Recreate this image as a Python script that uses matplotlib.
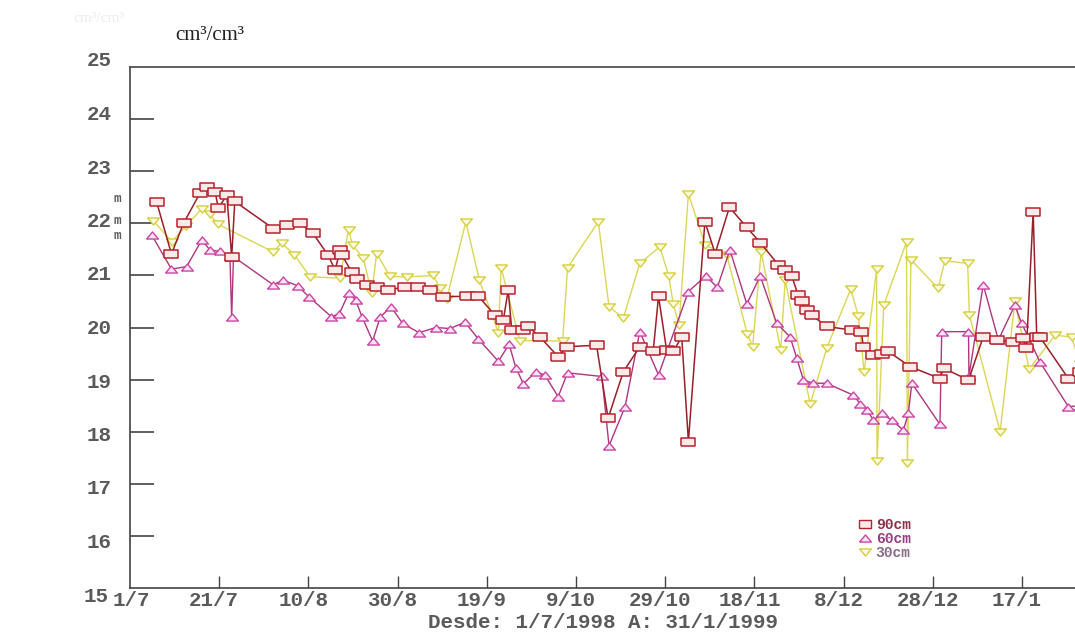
import matplotlib
matplotlib.use('Agg')
import matplotlib.pyplot as plt
from matplotlib.lines import Line2D
from matplotlib.transforms import offset_copy

# days counted from 1/7/1998, values in cm3/cm3
d90 = [6.0, 9.3, 12.0, 15.7, 17.3, 19.1, 19.8, 21.7, 22.8, 23.5,
       32.1, 35.2, 38.1, 41.0, 44.4, 46.0, 47.1, 47.5, 49.7, 50.8,
       53.1, 55.3, 57.9, 61.7, 64.6, 67.3, 70.2, 75.5, 78.1, 81.8,
       83.7, 84.8, 85.6, 88.1, 89.3, 91.9, 96.0, 97.9, 104.6, 107.2,
       110.6, 114.3, 117.3, 118.5, 120.3, 121.8, 123.7, 125.2, 128.9, 131.2,
       134.4, 138.3, 141.3, 145.4, 146.9, 148.4, 149.8, 150.6, 151.7, 152.8,
       156.2, 161.8, 164.0, 164.4, 166.7, 168.5, 170.0, 174.9, 181.6, 182.4,
       188.0, 191.3, 194.3, 198.0, 200.3, 201.0, 202.5, 203.3, 204.0, 210.4,
       213.0]
v90 = [22.40, 21.41, 22.00, 22.58, 22.70, 22.60, 22.29, 22.54, 21.36, 22.42,
       21.90, 21.97, 22.00, 21.81, 21.39, 21.10, 21.49, 21.39, 21.07, 20.94,
       20.82, 20.78, 20.72, 20.78, 20.78, 20.72, 20.59, 20.60, 20.60, 20.24,
       20.14, 20.72, 19.95, 19.95, 20.02, 19.82, 19.44, 19.63, 19.66, 18.26,
       19.15, 19.63, 19.54, 20.60, 19.57, 19.54, 19.82, 17.81, 22.03, 21.42,
       22.31, 21.92, 21.63, 21.20, 21.10, 20.98, 20.62, 20.50, 20.34, 20.24,
       20.02, 19.95, 19.92, 19.63, 19.47, 19.50, 19.54, 19.25, 19.02, 19.22,
       18.99, 19.82, 19.76, 19.73, 19.79, 19.60, 22.22, 19.82, 19.82, 19.02,
       19.15]

d60 = [4.9, 9.3, 12.7, 16.1, 17.9, 20.2, 22.4, 22.8, 23.2, 32.1,
       34.3, 37.6, 40.1, 45.1, 46.9, 49.1, 50.6, 52.0, 54.4, 56.1,
       58.5, 61.1, 64.8, 68.6, 71.7, 75.1, 78.1, 82.6, 85.0, 86.5,
       88.2, 91.0, 93.0, 96.0, 98.1, 105.8, 107.4, 111.0, 114.3, 118.5,
       125.2, 129.1, 131.7, 134.5, 138.3, 141.3, 145.0, 148.0, 149.5,
       151.0, 153.2, 156.2, 162.2, 163.7, 165.2, 166.7, 168.5, 170.8, 173.4,
       174.5, 175.3, 181.6, 182.0, 188.0, 188.1, 191.3, 194.7, 198.4, 199.9,
       201.4, 204.0, 210.4, 213.0]
v60 = [21.77, 21.12, 21.17, 21.68, 21.49, 21.46, 21.36, 20.20, 21.36, 20.82,
       20.91, 20.80, 20.59, 20.21, 20.26, 20.67, 20.52, 20.21, 19.74, 20.20,
       20.40, 20.08, 19.90, 20.00, 19.98, 20.10, 19.78, 19.35, 19.68, 19.23,
       18.92, 19.15, 19.09, 18.67, 19.13, 19.06, 17.73, 18.48, 19.92, 19.09,
       20.69, 20.99, 20.77, 21.49, 20.45, 20.99, 20.08, 19.82, 19.41,
       18.99, 18.93, 18.93, 18.70, 18.54, 18.42, 18.22, 18.35, 18.22, 18.03,
       18.35, 18.93, 18.14, 19.92, 19.92, 19.06, 20.82, 19.76, 20.43, 20.08,
       19.82, 19.34, 18.48, 18.50]

d30 = [5.2, 9.4, 12.6, 16.1, 17.9, 19.8, 32.1, 34.0, 36.8, 40.4,
       47.1, 49.0, 49.9, 52.3, 54.2, 55.3, 58.3, 62.0, 68.0, 69.5,
       71.0, 75.3, 78.3, 82.6, 83.2, 87.4, 97.0, 98.1, 105.0, 107.4,
       110.6, 114.3, 118.8, 120.8, 121.8, 123.1, 125.2, 129.0, 133.8, 138.4,
       139.6, 141.5, 145.9, 146.9, 152.5, 156.2, 161.6, 163.3, 164.6, 167.4,
       167.5, 169.0, 174.1, 174.3, 175.1, 181.2, 182.7, 187.8, 188.2, 195.1,
       198.4, 201.6, 207.4, 211.1, 213.0]
v30 = [22.05, 21.65, 21.95, 22.28, 22.17, 21.98, 21.45, 21.62, 21.40, 20.97,
       20.95, 21.88, 21.58, 21.33, 20.66, 21.42, 20.98, 20.97, 21.00, 20.75,
       20.55, 22.03, 20.92, 19.90, 21.15, 19.75, 19.74, 21.15, 22.03, 20.40,
       20.18, 21.23, 21.55, 20.98, 20.45, 20.05, 22.56, 21.58, 21.39, 19.88,
       19.63, 21.45, 19.57, 20.91, 18.53, 19.60, 20.74, 20.22, 19.15, 21.12,
       17.43, 20.43, 21.64, 17.39, 21.30, 20.75, 21.28, 21.23, 20.24, 18.00,
       20.50, 19.20, 19.85, 19.82, 19.30]

tick_days = [0, 20, 40, 60, 80, 100, 120, 140, 160, 180, 200]
tick_labels = ['1/7', '21/7', '10/8', '30/8', '19/9', '9/10', '29/10',
               '18/11', '8/12', '28/12', '17/1']
y_ticks = [15, 16, 17, 18, 19, 20, 21, 22, 23, 24, 25]

mono = 'Liberation Mono'
grey = '#5a5a5a'

# flattened markers like the old plotter
rect = [(-1.5, -1), (1.5, -1), (1.5, 1), (-1.5, 1), (-1.5, -1)]
tri_up = [(-1.5, -0.9), (1.5, -0.9), (0, 0.9), (-1.5, -0.9)]
tri_dn = [(-1.5, 0.9), (1.5, 0.9), (0, -0.9), (-1.5, 0.9)]

fig = plt.figure(figsize=(10.75, 6.33), dpi=100)
fig.patch.set_facecolor('white')
ax = fig.add_axes([130 / 1075, 45 / 633, 950 / 1075, 521 / 633])

ax.plot(d30, v30, color='#dcd656', lw=1.0, marker=tri_dn, ms=8.5,
        mfc='#fcfae2', mec='#d6cf3c', mew=1.0, zorder=2)
ax.plot(d60, v60, color='#b0357f', lw=1.0, marker=tri_up, ms=8.5,
        mfc='#f9e4f2', mec='#cc44a6', mew=1.0, zorder=3)
ax.plot(d90, v90, color='#9a1f28', lw=1.1, marker=rect, ms=9.5,
        mfc='#fbeaea', mec='#b8222e', mew=1.1, zorder=4)

ax.set_xlim(0, 213)
ax.set_ylim(15, 25)

for side in ['left', 'bottom', 'top']:
    ax.spines[side].set_color('#444444')
    ax.spines[side].set_linewidth(1.2)
ax.spines['right'].set_visible(False)

ax.set_xticks(tick_days[1:])
ax.set_xticklabels([])
ax.set_yticks(y_ticks[1:-1])
ax.set_yticklabels([])
ax.tick_params(axis='x', direction='in', length=9, width=1.0, color='#444444')
ax.tick_params(axis='y', direction='in', length=17, width=1.2, color='#444444')

# x tick labels
for i, (d, lab) in enumerate(zip(tick_days, tick_labels)):
    dx = 1 if i == 0 else -5
    xt = offset_copy(ax.get_xaxis_transform(), fig=fig, x=dx, y=-12, units='dots')
    ax.text(d, 0, lab, transform=xt, ha='center', va='center',
            family=mono, weight='bold', fontsize=15, color=grey)

# y tick labels (the plotter's label scale is a bit stretched)
for v in y_ticks:
    dy = 6 - 1.4 * (25 - v)
    dx = -21 if v == 15 else -18
    yt = offset_copy(ax.get_yaxis_transform(), fig=fig, x=dx, y=dy, units='dots')
    ax.text(0, v, str(v), transform=yt, ha='right', va='center',
            family=mono, weight='bold', fontsize=15, color=grey)

# stray marks next to 22
for ypix in [199, 221, 236]:
    fig.text(117 / 1075, 1 - ypix / 633, 'm', ha='center', va='center',
             family=mono, weight='bold', fontsize=9, color=grey)

fig.text(210 / 1075, 1 - 36 / 633, 'cm³/cm³', ha='center', va='center',
         family='Liberation Serif', fontsize=15, color='#222222')
fig.text(99 / 1075, 1 - 19 / 633, 'cm³/cm³', ha='center', va='center',
         family='Liberation Serif', fontsize=11, color='#ebebf0')

fig.text(603 / 1075, 1 - 622 / 633, 'Desde: 1/7/1998 A: 31/1/1999',
         ha='center', va='center', family=mono, weight='bold',
         fontsize=15, color=grey)

# legend
handles = [
    Line2D([], [], ls='none', marker=rect, ms=9, mfc='#fbeaea', mec='#b8222e'),
    Line2D([], [], ls='none', marker=tri_up, ms=8.5, mfc='#f9e4f2', mec='#cc44a6'),
    Line2D([], [], ls='none', marker=tri_dn, ms=8.5, mfc='#fcfae2', mec='#d6cf3c'),
]
leg = ax.legend(handles, ['90cm', '60cm', '30cm'], loc='upper left',
                bbox_to_anchor=(851 / 1075, 1 - 511 / 633),
                bbox_transform=fig.transFigure, frameon=False,
                handlelength=0.9, handletextpad=0.3, labelspacing=0.0,
                borderpad=0, prop={'family': mono, 'weight': 'bold', 'size': 10.5})
for t, c in zip(leg.get_texts(), ['#8a3048', '#9a3a84', '#8a6a84']):
    t.set_color(c)

fig.savefig('out.png', dpi=100)
